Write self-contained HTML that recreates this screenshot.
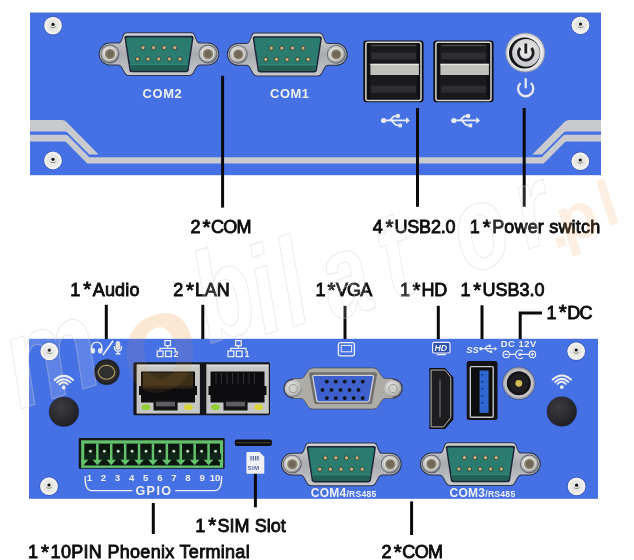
<!DOCTYPE html>
<html><head><meta charset="utf-8">
<style>
html,body{margin:0;padding:0;background:#fff;width:634px;height:560px;overflow:hidden}
svg{display:block;will-change:transform}
.lb{font-family:"Liberation Sans",sans-serif;font-size:18px;fill:#0c0c0c;stroke:#0c0c0c;stroke-width:0.85px}
.wt{font-family:"Liberation Sans",sans-serif;font-weight:bold;fill:#eef0f4}
</style></head><body>
<svg width="634" height="560" viewBox="0 0 634 560">
<defs>
  <radialGradient id="gNut" cx="0.42" cy="0.38" r="0.65">
    <stop offset="0" stop-color="#f0f0ee"/><stop offset="0.75" stop-color="#b9bab9"/><stop offset="1" stop-color="#74777e"/>
  </radialGradient>
  <linearGradient id="gShell" x1="0" y1="0" x2="0" y2="1">
    <stop offset="0" stop-color="#d2d3d4"/><stop offset="0.5" stop-color="#a9abaf"/><stop offset="1" stop-color="#c8c9cb"/>
  </linearGradient>
  <radialGradient id="gKnob" cx="0.4" cy="0.35" r="0.7">
    <stop offset="0" stop-color="#3b3c41"/><stop offset="1" stop-color="#1e1e22"/>
  </radialGradient>
  <radialGradient id="gPwr" cx="0.5" cy="0.4" r="0.6">
    <stop offset="0" stop-color="#f2f2f2"/><stop offset="1" stop-color="#c4c5c8"/>
  </radialGradient>
  <g id="screw">
    <circle r="9.6" fill="#27408f" opacity="0.55"/>
    <circle r="8.9" fill="#f0f0ee"/>
    <circle r="6.2" fill="#e6e6e2"/>
    <path d="M-3.2,-0.6 A3.2,3.2 0 0 0 3.2,-0.6 A3.2,2.2 0 0 1 -3.2,-0.6 Z" fill="#8c8a84"/>
    <circle cx="0" cy="-1.2" r="1.6" fill="#16161a"/>
  </g>
  <g id="nut">
    <circle r="9.4" fill="#5b5f6a"/>
    <circle r="8.6" fill="url(#gNut)"/>
    <circle r="6.2" fill="#e4e2da"/>
    <circle r="5.2" fill="#8b826f"/>
    <circle r="3.4" fill="#6f6757"/>
  </g>
  <!-- DB9 male, centered at 0,0 -->
  <g id="db9">
    <path d="M-49,-11.4 A11.4,11.4 0 0 0 -49,11.4 L-41,11.4 Q-38.5,11.4 -37,15 L-34.5,19.5 Q-33,22 -30,22 L30,22 Q33,22 34.5,19.5 L37,15 Q38.5,11.4 41,11.4 L49,11.4 A11.4,11.4 0 0 0 49,-11.4 L41,-11.4 Q38.5,-11.4 37.5,-15 L36,-19 Q35,-21.8 32,-21.8 L-32,-21.8 Q-35,-21.8 -36,-19 L-37.5,-15 Q-38.5,-11.4 -41,-11.4 Z" fill="#2e344c"/>
    <path d="M-49,-10.4 A10.4,10.4 0 0 0 -49,10.4 L-41,10.4 Q-38,10.4 -36.3,14.3 L-33.8,18.8 Q-32.5,21 -30,21 L30,21 Q32.5,21 33.8,18.8 L36.3,14.3 Q38,10.4 41,10.4 L49,10.4 A10.4,10.4 0 0 0 49,-10.4 L41,-10.4 Q38,-10.4 36.8,-14.3 L35.2,-18.5 Q34.4,-20.8 32,-20.8 L-32,-20.8 Q-34.4,-20.8 -35.2,-18.5 L-36.8,-14.3 Q-38,-10.4 -41,-10.4 Z" fill="url(#gShell)"/>
    <path d="M-34.6,-16.4 Q-34.6,-18.2 -32.6,-18.2 L32.6,-18.2 Q34.6,-18.2 34.6,-16.4 L29.6,16.4 Q29.1,18.2 27.1,18.2 L-27.1,18.2 Q-29.1,18.2 -29.6,16.4 Z" fill="#1c2237"/>
    <path d="M-33,-15.2 Q-33,-16.6 -31.4,-16.6 L31.4,-16.6 Q33,-16.6 33,-15.2 L28.3,15 Q27.9,16.5 26.3,16.5 L-26.3,16.5 Q-27.9,16.5 -28.3,15 Z" fill="#2b7b6e"/>
    <path d="M-29.4,10.6 L29.4,10.6 L28.3,15 Q27.9,16.5 26.3,16.5 L-26.3,16.5 Q-27.9,16.5 -28.3,15 Z" fill="#225f55"/>
    <path d="M-29.4,10.6 L29.4,10.6" stroke="#3d9a8a" stroke-width="0.7"/>
    <g fill="#cbb47c" stroke="#2f463e" stroke-width="0.9">
      <circle cx="-16" cy="-6.3" r="2.1"/><circle cx="-5.4" cy="-6.3" r="2.1"/><circle cx="5.2" cy="-6.3" r="2.1"/><circle cx="15.8" cy="-6.3" r="2.1"/>
      <circle cx="-21.5" cy="5" r="2.1"/><circle cx="-10.9" cy="5" r="2.1"/><circle cx="-0.3" cy="5" r="2.1"/><circle cx="10.3" cy="5" r="2.1"/><circle cx="20.9" cy="5" r="2.1"/>
    </g>
    <use href="#nut" x="-49" y="0"/>
    <use href="#nut" x="49" y="0"/>
  </g>
  <!-- USB 2.0 double, 60x62 -->
  <g id="usb2">
    <rect x="0" y="0" width="60.3" height="61.6" rx="3" fill="#101012"/>
    <rect x="2.6" y="1.6" width="55.1" height="58.4" rx="2" fill="none" stroke="#d4d4d2" stroke-width="1.5"/>
    <rect x="6.6" y="3.6" width="47.2" height="19.5" fill="#1a1a1c"/>
    <rect x="8" y="4.2" width="44.5" height="1.4" fill="#4a4a4a"/>
    <rect x="8" y="11.9" width="44.5" height="7" fill="#2e2e32"/>
    <rect x="7.1" y="23.2" width="48.5" height="11.2" fill="#c1c1bc"/>
    <rect x="7.1" y="23.2" width="48.5" height="1.3" fill="#e6e6e2"/>
    <rect x="6.6" y="34.6" width="47.2" height="23.4" fill="#1a1a1c"/>
    <rect x="8" y="45" width="44.5" height="7.1" fill="#2e2e32"/>
  </g>
  <g id="usbsym" fill="none" stroke="#e8ecf4" stroke-width="1.8">
    <path d="M2,0.4 L25.5,0.4"/>
    <circle cx="2.3" cy="0.5" r="2.6" fill="#e8ecf4" stroke="none"/>
    <path d="M24.8,-3 L28.6,0.4 L24.8,3.8 Z" fill="#e8ecf4" stroke="none"/>
    <path d="M8,0.4 C10.5,0.4 10,-4 14.5,-4"/>
    <circle cx="16.6" cy="-4" r="2.2" fill="#e8ecf4" stroke="none"/>
    <path d="M9.5,0.4 C12,0.4 12,5.4 17,5.4"/>
    <rect x="17" y="3.6" width="3.7" height="3.7" fill="#e8ecf4" stroke="none"/>
  </g>
  <g id="wifi" fill="none" stroke="#eceef4" stroke-width="2" stroke-linecap="round">
    <path d="M-9.1,-3 Q0,-11.2 9.2,-3"/>
    <path d="M-6.7,-0.7 Q0,-6.9 6.6,-0.7"/>
    <path d="M-4.3,1.3 Q0,-2.9 3.9,1.3"/>
    <circle cx="0" cy="4.5" r="1.9" fill="#eceef4" stroke="none"/>
  </g>
</defs>


<!-- ============ TOP PANEL ============ -->
<rect x="30" y="12.5" width="571" height="162.7" fill="#4671e4"/>
<g fill="#c9cacd">
  <path id="upL" d="M30,120 H62 Q64.5,120 66.3,121.8 L98.6,154.4 H89.3 L67.8,132.9 Q66.5,131.6 64.6,131.6 H30 Z"/>
  <use href="#upL" transform="translate(631,0) scale(-1,1)"/>
  <path d="M30,134.8 H65 Q66.9,134.8 68.2,136.1 L89.3,157.2 H541.7 L562.8,136.1 Q564.1,134.8 566,134.8 H601 V141.6 H566.8 Q565.5,141.6 564.5,142.6 L543.7,163.6 H87.3 L66.5,142.6 Q65.5,141.6 64.2,141.6 H30 Z"/>
</g>
<use href="#screw" x="53" y="25.6"/>
<use href="#screw" x="580.5" y="25.3"/>
<use href="#screw" x="53" y="160.5"/>
<use href="#screw" x="580.3" y="161.2"/>

<use href="#db9" x="159" y="54"/>
<use href="#db9" x="287.3" y="54.4"/>
<text class="wt" x="142.6" y="97.9" font-size="12.9" letter-spacing="0.6">COM2</text>
<text class="wt" x="270.0" y="97.9" font-size="12.9" letter-spacing="0.6">COM1</text>

<use href="#usb2" x="363.3" y="40.6"/>
<use href="#usb2" x="433.3" y="40.6"/>
<use href="#usbsym" x="381.3" y="120"/>
<use href="#usbsym" x="451.5" y="120"/>

<!-- power button -->
<circle cx="525.3" cy="52.6" r="19.5" fill="#d5d6d9" stroke="#8d929c" stroke-width="0.8"/>
<circle cx="525.3" cy="52.6" r="17.6" fill="#e9e9ea"/>
<circle cx="524.6" cy="53" r="15.6" fill="#141416"/>
<circle cx="526" cy="52.8" r="13.9" fill="url(#gPwr)"/>
<path d="M520.2,48 A7.4,7.4 0 1 0 531.4,48" fill="none" stroke="#1e1e22" stroke-width="2.8"/>
<path d="M525.8,43.5 L525.8,53.5" stroke="#1e1e22" stroke-width="2.8"/>
<path d="M520.6,83 A7.6,7.6 0 1 0 530.8,83" fill="none" stroke="#e6e9f0" stroke-width="2.3"/>
<path d="M525.7,78.3 L525.7,88.3" stroke="#e6e9f0" stroke-width="2.3"/>

<!-- ============ BOTTOM PANEL ============ -->
<rect x="29" y="338.8" width="569" height="160" fill="#4671e4"/>
<use href="#screw" x="49.3" y="351.4"/>
<use href="#screw" x="576.2" y="351.2"/>
<use href="#screw" x="49" y="486.2"/>
<use href="#screw" x="576.6" y="486.4"/>
<use href="#wifi" x="63.8" y="383"/>
<use href="#wifi" x="561.8" y="382.6"/>
<circle cx="63.9" cy="411.8" r="15.3" fill="#1a2a66" opacity="0.5"/>
<circle cx="63.9" cy="411.8" r="14.8" fill="url(#gKnob)"/>
<circle cx="561.8" cy="411.5" r="15.3" fill="#1a2a66" opacity="0.5"/>
<circle cx="561.8" cy="411.5" r="14.8" fill="url(#gKnob)"/>

<!-- audio -->
<circle cx="106.8" cy="372.1" r="13.2" fill="#2c3a70" opacity="0.6"/>
<circle cx="106.8" cy="372.1" r="12.6" fill="#1e1e22"/>
<circle cx="106.8" cy="372.1" r="11" fill="#2a2a2c"/>
<path d="M98,372.3 Q100,365.5 106.5,365.2 Q113.5,365.5 115,372.3 Q113.5,379 106.5,379.3 Q100,379 98,372.3 Z" fill="#303031" stroke="#b8a062" stroke-width="1.1"/>
<g fill="none" stroke="#eceef4" stroke-width="1.4">
  <path d="M91.6,350.5 L91.6,347.2 A5.1,5.1 0 0 1 101.8,347.2 L101.8,350.5"/>
  <rect x="91.2" y="348.6" width="3.4" height="4.4" rx="1.3" fill="#e6e8ee" stroke-width="1"/>
  <rect x="98.5" y="348.6" width="3.4" height="4.4" rx="1.3" fill="#e6e8ee" stroke-width="1"/>
  <path d="M102.9,355 L113.1,340.8" stroke-width="1.5"/>
  <rect x="116.2" y="341.6" width="3.6" height="7.8" rx="1.8" fill="#e2dcc8" stroke-width="1"/>
  <path d="M114.4,346.3 Q114.4,351.3 118,351.3 Q121.6,351.3 121.6,346.3 M118,351.3 L118,353.6 M115.6,353.8 L120.4,353.8"/>
</g>

<!-- LAN -->
<rect x="133.4" y="362.2" width="136.6" height="53.1" rx="1.5" fill="#141519"/>
<g>
  <rect x="136.6" y="364.3" width="63.3" height="49.3" fill="#c6c7c4"/>
  <rect x="137.6" y="365.3" width="61.3" height="1.4" fill="#dcdcda"/>
  <path d="M141,371.5 H195 V386 H197 V395 H195 V402.4 H141 V395 H139 V386 H141 Z" fill="#0d0d0f"/>
  <rect x="143" y="372.5" width="50" height="14" fill="#3d3019"/>
  <rect x="143" y="386.5" width="50" height="2" fill="#2a2418"/>
  <path d="M153.5,400 H177.6 V410.5 H153.5 Z" fill="#141416"/>
  <rect x="156" y="401.8" width="19" height="4.6" fill="#5d5e60"/>
  <ellipse cx="146" cy="407.2" rx="4.4" ry="2.9" fill="#92cf35"/>
  <ellipse cx="188.4" cy="407.2" rx="4.4" ry="2.9" fill="#d9d534"/>
</g>
<g>
  <rect x="206.3" y="364.3" width="62.5" height="49.3" fill="#c6c7c4"/>
  <rect x="207.3" y="365.3" width="60.5" height="1.4" fill="#dcdcda"/>
  <path d="M210.5,371.5 H264.5 V386 H266.5 V395 H264.5 V402.4 H210.5 V395 H208.5 V386 H210.5 Z" fill="#0d0d0f"/>
  <g stroke="#3a3a3c" stroke-width="0.8">
    <path d="M216,373 V384 M221.5,373 V384 M227,373 V384 M232.5,373 V384 M238,373 V384 M243.5,373 V384 M249,373 V384 M254.5,373 V384"/>
  </g>
  <path d="M223.5,400 H247.6 V410.5 H223.5 Z" fill="#141416"/>
  <rect x="226" y="401.8" width="19" height="4.6" fill="#5d5e60"/>
  <ellipse cx="215.5" cy="407.2" rx="4.4" ry="2.9" fill="#92cf35"/>
  <ellipse cx="258.6" cy="407.2" rx="4.4" ry="2.9" fill="#d9d534"/>
</g>
<!-- LAN icons -->
<g fill="none" stroke="#eceef4" stroke-width="1.25">
  <rect x="164.9" y="340.6" width="5.6" height="5"/>
  <path d="M167.7,345.6 V348.3 M160,351 V348.3 H175.2 V351"/>
  <rect x="157.2" y="351" width="5.8" height="5.6"/><rect x="165.5" y="351" width="5.8" height="5.6"/>
  <rect x="235.6" y="340.6" width="5.6" height="5"/>
  <path d="M238.4,345.6 V348.3 M230.8,351 V348.3 H246 V351"/>
  <rect x="228" y="351" width="5.8" height="5.6"/><rect x="236.3" y="351" width="5.8" height="5.6"/>
</g>
<text class="wt" x="173.5" y="357.2" font-size="9">2</text>
<text class="wt" x="244.5" y="357.2" font-size="9">1</text>

<!-- VGA -->
<g transform="translate(343.1,388.5)">
  <circle cx="-49.9" cy="0" r="10" fill="#3a4056"/>
  <circle cx="49.9" cy="0" r="10" fill="#3a4056"/>
  <path d="M-50,-10 L-42,-10 Q-40,-10 -38.5,-12.5 L-35,-18 Q-33.5,-20.6 -30,-20.6 L30,-20.6 Q33.5,-20.6 35,-18 L38.5,-12.5 Q40,-10 42,-10 L50,-10 L50,10 L42,10 Q40,10 38.5,12.5 L35,18 Q33.5,20.6 30,20.6 L-30,20.6 Q-33.5,20.6 -35,18 L-38.5,12.5 Q-40,10 -42,10 L-50,10 Z" fill="#aeaca6" stroke="#4a4e5c" stroke-width="0.8"/>
  <path d="M-34,-14.5 Q-34,-16.2 -32,-16.2 L32,-16.2 Q34,-16.2 34,-14.5 L29,14 Q28.5,15.6 26.5,15.6 L-26.5,15.6 Q-28.5,15.6 -29,14 Z" fill="#6f6e6c"/>
  <path d="M-30.4,-12 Q-30.4,-13.2 -28.8,-13.2 L28.8,-13.2 Q30.4,-13.2 30.4,-12 L26.2,12 Q25.8,13.3 24.2,13.3 L-24.2,13.3 Q-25.8,13.3 -26.2,12 Z" fill="#3e60cc" stroke="#d0d2d6" stroke-width="1.3"/>
  <g fill="#0e0e16">
    <circle cx="-16.3" cy="-6.9" r="1.9"/><circle cx="-7.3" cy="-6.9" r="1.9"/><circle cx="1.7" cy="-6.9" r="1.9"/><circle cx="10.6" cy="-6.9" r="1.9"/><circle cx="19.6" cy="-6.9" r="1.9"/>
    <circle cx="-20.6" cy="1.4" r="1.9"/><circle cx="-11.6" cy="1.4" r="1.9"/><circle cx="-2.6" cy="1.4" r="1.9"/><circle cx="6.4" cy="1.4" r="1.9"/><circle cx="15.4" cy="1.4" r="1.9"/>
    <circle cx="-16.3" cy="9.6" r="1.9"/><circle cx="-7.3" cy="9.6" r="1.9"/><circle cx="1.7" cy="9.6" r="1.9"/><circle cx="10.6" cy="9.6" r="1.9"/><circle cx="19.6" cy="9.6" r="1.9"/>
  </g>
  <circle cx="-49.9" cy="0" r="8.6" fill="url(#gNut)"/>
  <circle cx="-49.9" cy="0" r="4.2" fill="#cfcfcc" stroke="#8a8a88" stroke-width="0.8"/>
  <circle cx="49.9" cy="0" r="8.6" fill="url(#gNut)"/>
  <circle cx="49.9" cy="0" r="4.2" fill="#cfcfcc" stroke="#8a8a88" stroke-width="0.8"/>
</g>
<!-- VGA icon -->
<rect x="338.4" y="342.6" width="16" height="13.2" rx="2" fill="none" stroke="#eceef4" stroke-width="1.3"/>
<rect x="341.2" y="345.4" width="10.4" height="6.4" fill="none" stroke="#eceef4" stroke-width="1"/>

<!-- HDMI -->
<path d="M429.4,368 H445 L453.4,377.5 V419.5 L445,428.9 H429.4 Z" fill="#0f0f12"/>
<path d="M431.1,370 H443.6 Q445,370 446,371.2 L449.8,376 Q450.8,377.3 450.8,378.7 V416.2 Q450.8,417.6 449.8,418.9 L446,423.7 Q445,425 443.6,426.9 H431.1 Z" fill="#1d1d20" stroke="#b9b9b6" stroke-width="1"/>
<rect x="439" y="379.5" width="2" height="38" fill="#4a4a4c"/>
<!-- HD icon -->
<rect x="432.6" y="342.4" width="17.4" height="10.6" rx="1.6" fill="#2f4fae" stroke="#eceef4" stroke-width="1.2"/>
<text x="434.4" y="351.2" font-family="Liberation Sans" font-weight="bold" font-style="italic" font-size="8.8" fill="#eceef4">HD</text>
<path d="M436.8,354.6 L446,354.6" stroke="#eceef4" stroke-width="1.3"/>

<!-- USB3 -->
<rect x="466.7" y="361.1" width="30.8" height="59" rx="2.5" fill="#121214"/>
<rect x="470.3" y="366.6" width="22.9" height="50.6" rx="1" fill="none" stroke="#c2c3c3" stroke-width="1.4"/>
<rect x="471.6" y="368" width="20.4" height="47.8" fill="#0e0e10"/>
<rect x="479.6" y="370.5" width="9" height="42.4" fill="#2f66cf"/>
<g fill="#1a3f8a"><rect x="481" y="374" width="2.5" height="1.5"/><rect x="481" y="381" width="2.5" height="1.5"/><rect x="481" y="388" width="2.5" height="1.5"/><rect x="481" y="395" width="2.5" height="1.5"/><rect x="481" y="402" width="2.5" height="1.5"/></g>
<text x="466.3" y="352.5" font-family="Liberation Sans" font-weight="bold" font-style="italic" font-size="9.4" fill="#eceef4">SS</text>
<g transform="translate(479.4,348.4) scale(0.62)"><use href="#usbsym"/></g>

<!-- DC -->
<text class="wt" x="500.8" y="346.6" font-size="9.4" letter-spacing="0.55">DC 12V</text>
<g fill="none" stroke="#eceef4" stroke-width="1.2">
  <circle cx="506.2" cy="354.4" r="3.2"/><circle cx="532.4" cy="354.4" r="3.2"/>
  <path d="M522.7,351.3 A4.2,4.2 0 1 0 522.7,357.5"/>
  <path d="M504.6,354.4 H507.8 M509.4,354.4 H515.6 M520,354.4 H529.2 M530.8,354.4 H534 M532.4,352.8 V356"/>
</g>
<circle cx="519.8" cy="354.4" r="1.5" fill="#eceef4"/>
<circle cx="518.8" cy="383.3" r="16.6" fill="#2c3a6e" opacity="0.6"/>
<circle cx="518.8" cy="383.3" r="16" fill="#9c9da0"/>
<circle cx="518.8" cy="383.3" r="14.6" fill="#c2c3c4"/>
<circle cx="518.8" cy="383.3" r="12" fill="#141416"/>
<circle cx="518.8" cy="383.3" r="9.6" fill="#1e1e20"/>
<circle cx="518.8" cy="383.3" r="3.4" fill="#d4bc52"/>

<!-- Terminal block -->
<rect x="78.7" y="438.1" width="146" height="30.6" rx="1" fill="#15171d"/>
<g>
<clipPath id="cpT"><rect x="81.2" y="440.3" width="141.9" height="27.6"/></clipPath>
<rect x="81.2" y="440.3" width="141.9" height="27.6" fill="#63c16d"/>
<rect x="84.3" y="443.6" width="135.7" height="21.9" fill="#0b160e"/>
<rect x="84.80" y="453.5" width="11.2" height="7" fill="#112419"/>
<circle cx="90.40" cy="451.3" r="2.6" fill="#15301c"/>
<circle cx="90.40" cy="451.3" r="1.25" fill="#eef3ee"/>
<rect x="98.70" y="453.5" width="11.2" height="7" fill="#112419"/>
<circle cx="104.30" cy="451.3" r="2.6" fill="#15301c"/>
<circle cx="104.30" cy="451.3" r="1.25" fill="#eef3ee"/>
<rect x="112.60" y="453.5" width="11.2" height="7" fill="#112419"/>
<circle cx="118.20" cy="451.3" r="2.6" fill="#15301c"/>
<circle cx="118.20" cy="451.3" r="1.25" fill="#eef3ee"/>
<rect x="126.50" y="453.5" width="11.2" height="7" fill="#112419"/>
<circle cx="132.10" cy="451.3" r="2.6" fill="#15301c"/>
<circle cx="132.10" cy="451.3" r="1.25" fill="#eef3ee"/>
<rect x="140.40" y="453.5" width="11.2" height="7" fill="#112419"/>
<circle cx="146.00" cy="451.3" r="2.6" fill="#15301c"/>
<circle cx="146.00" cy="451.3" r="1.25" fill="#eef3ee"/>
<rect x="154.30" y="453.5" width="11.2" height="7" fill="#112419"/>
<circle cx="159.90" cy="451.3" r="2.6" fill="#15301c"/>
<circle cx="159.90" cy="451.3" r="1.25" fill="#eef3ee"/>
<rect x="168.20" y="453.5" width="11.2" height="7" fill="#112419"/>
<circle cx="173.80" cy="451.3" r="2.6" fill="#15301c"/>
<circle cx="173.80" cy="451.3" r="1.25" fill="#eef3ee"/>
<rect x="182.10" y="453.5" width="11.2" height="7" fill="#112419"/>
<circle cx="187.70" cy="451.3" r="2.6" fill="#15301c"/>
<circle cx="187.70" cy="451.3" r="1.25" fill="#eef3ee"/>
<rect x="196.00" y="453.5" width="11.2" height="7" fill="#112419"/>
<circle cx="201.60" cy="451.3" r="2.6" fill="#15301c"/>
<circle cx="201.60" cy="451.3" r="1.25" fill="#eef3ee"/>
<rect x="209.90" y="453.5" width="11.2" height="7" fill="#112419"/>
<circle cx="215.50" cy="451.3" r="2.6" fill="#15301c"/>
<circle cx="215.50" cy="451.3" r="1.25" fill="#eef3ee"/>
<g clip-path="url(#cpT)">
<path d="M78.65,459.7 L88.25,459.7 L83.45,465.3 Z" fill="#63c16d"/>
<rect x="96.10" y="443.5" width="2.5" height="18" fill="#63c16d"/>
<path d="M92.55,459.7 L102.15,459.7 L97.35,465.3 Z" fill="#63c16d"/>
<rect x="110.00" y="443.5" width="2.5" height="18" fill="#63c16d"/>
<path d="M106.45,459.7 L116.05,459.7 L111.25,465.3 Z" fill="#63c16d"/>
<rect x="123.90" y="443.5" width="2.5" height="18" fill="#63c16d"/>
<path d="M120.35,459.7 L129.95,459.7 L125.15,465.3 Z" fill="#63c16d"/>
<rect x="137.80" y="443.5" width="2.5" height="18" fill="#63c16d"/>
<path d="M134.25,459.7 L143.85,459.7 L139.05,465.3 Z" fill="#63c16d"/>
<rect x="151.70" y="443.5" width="2.5" height="18" fill="#63c16d"/>
<path d="M148.15,459.7 L157.75,459.7 L152.95,465.3 Z" fill="#63c16d"/>
<rect x="165.60" y="443.5" width="2.5" height="18" fill="#63c16d"/>
<path d="M162.05,459.7 L171.65,459.7 L166.85,465.3 Z" fill="#63c16d"/>
<rect x="179.50" y="443.5" width="2.5" height="18" fill="#63c16d"/>
<path d="M175.95,459.7 L185.55,459.7 L180.75,465.3 Z" fill="#63c16d"/>
<rect x="193.40" y="443.5" width="2.5" height="18" fill="#63c16d"/>
<path d="M189.85,459.7 L199.45,459.7 L194.65,465.3 Z" fill="#63c16d"/>
<rect x="207.30" y="443.5" width="2.5" height="18" fill="#63c16d"/>
<path d="M203.75,459.7 L213.35,459.7 L208.55,465.3 Z" fill="#63c16d"/>
<path d="M217.65,459.7 L227.25,459.7 L222.45,465.3 Z" fill="#63c16d"/>
</g>
</g>

<!-- GPIO numbers -->
<g class="wt" font-size="9.6" text-anchor="middle">
  <text x="89.3" y="481">1</text><text x="103.3" y="481">2</text><text x="117.5" y="481">3</text><text x="131.6" y="481">4</text><text x="145.7" y="481">5</text>
  <text x="159.8" y="481">6</text><text x="173.9" y="481">7</text><text x="188" y="481">8</text><text x="202.1" y="481">9</text><text x="215" y="481">10</text>
</g>
<path d="M85.2,476 Q84.6,490.6 92,490.6 L132.5,490.6 M175.2,490.6 L214.5,490.6 Q221.8,490.6 221.6,476" fill="none" stroke="#eceef4" stroke-width="1.4"/>
<text class="wt" x="135.4" y="495.3" font-size="12.6" letter-spacing="1.4">GPIO</text>

<!-- SIM -->
<rect x="234.8" y="439.4" width="37.1" height="6.7" rx="2" fill="#0e0e12"/>
<rect x="236" y="442" width="34.5" height="1.2" fill="#3a3a30"/>
<path d="M246.4,452.9 Q246.4,451.9 247.4,451.9 L259.4,451.9 L264.3,456.8 L264.3,472.8 Q264.3,473.8 263.3,473.8 L247.4,473.8 Q246.4,473.8 246.4,472.8 Z" fill="#eef0f4"/>
<g fill="#5a68a6"><rect x="250.4" y="456" width="1.3" height="4.5"/><rect x="252.7" y="456" width="1.3" height="4.5"/><rect x="255" y="456" width="1.3" height="4.5"/><rect x="257.3" y="456" width="1.3" height="4.5"/></g>
<text x="247.6" y="469.8" font-family="Liberation Sans" font-weight="bold" font-size="6.2" fill="#5a68a6" letter-spacing="0.3">SIM</text>

<!-- COM3/4 -->
<use href="#db9" x="341.3" y="464.2"/>
<use href="#db9" x="480.4" y="464"/>
<text class="wt" x="310.8" y="497.4" font-size="12" letter-spacing="0.25">COM4<tspan font-size="8.6">/RS485</tspan></text>
<text class="wt" x="449.6" y="497" font-size="12" letter-spacing="0.25">COM3<tspan font-size="8.6">/RS485</tspan></text>

<!-- ============ LEADER LINES ============ -->
<g stroke="#0a0a0a" stroke-width="3" fill="none">
  <path d="M222.6,75.8 V207.6"/>
  <path d="M417.5,108 V206.8"/>
  <path d="M524.2,108 V206.8"/>
  <path d="M106.3,304.8 V339"/>
  <path d="M202.8,304.8 V339"/>
  <path d="M345,305.8 V339"/>
  <path d="M438.3,305.8 V339"/>
  <path d="M482,305.3 V339"/>
  <path d="M520.2,339 V313 H542"/>
  <path d="M153.3,503 V534"/>
  <path d="M255.4,473.8 V507.3"/>
  <path d="M411.6,501.4 V535"/>
</g>


<text class="lb" x="190.47" y="233.20" letter-spacing="-0.796">2<tspan dx="2.8" font-size="20.5" dy="0.7">*</tspan><tspan dx="1.3" dy="-0.7">COM</tspan></text>
<text class="lb" x="372.81" y="233.10" letter-spacing="-0.208">4<tspan dx="2.8" font-size="20.5" dy="0.7">*</tspan><tspan dx="1.3" dy="-0.7">USB2.0</tspan></text>
<text class="lb" x="469.66" y="233.30" letter-spacing="0.180">1<tspan dx="2.8" font-size="20.5" dy="0.7">*</tspan><tspan dx="1.3" dy="-0.7">Power switch</tspan></text>
<text class="lb" x="70.29" y="295.50" letter-spacing="0.175">1<tspan dx="2.8" font-size="20.5" dy="0.7">*</tspan><tspan dx="1.3" dy="-0.7">Audio</tspan></text>
<text class="lb" x="173.29" y="295.90" letter-spacing="-0.176">2<tspan dx="2.8" font-size="20.5" dy="0.7">*</tspan><tspan dx="1.3" dy="-0.7">LAN</tspan></text>
<text class="lb" x="315.56" y="295.80" letter-spacing="-0.867">1<tspan dx="2.8" font-size="20.5" dy="0.7">*</tspan><tspan dx="1.3" dy="-0.7">VGA</tspan></text>
<text class="lb" x="400.03" y="295.80" letter-spacing="-0.286">1<tspan dx="2.8" font-size="20.5" dy="0.7">*</tspan><tspan dx="1.3" dy="-0.7">HD</tspan></text>
<text class="lb" x="460.54" y="295.80" letter-spacing="-0.021">1<tspan dx="2.8" font-size="20.5" dy="0.7">*</tspan><tspan dx="1.3" dy="-0.7">USB3.0</tspan></text>
<text class="lb" x="546.54" y="318.70" letter-spacing="-0.670">1<tspan dx="2.8" font-size="20.5" dy="0.7">*</tspan><tspan dx="1.3" dy="-0.7">DC</tspan></text>
<text class="lb" x="195.28" y="531.70" letter-spacing="0.047">1<tspan dx="2.8" font-size="20.5" dy="0.7">*</tspan><tspan dx="1.3" dy="-0.7">SIM Slot</tspan></text>
<text class="lb" x="27.90" y="558.00" letter-spacing="0.300">1<tspan dx="2.8" font-size="20.5" dy="0.7">*</tspan><tspan dx="1.3" dy="-0.7">10PIN Phoenix Terminal</tspan></text>
<text class="lb" x="381.47" y="558.20" letter-spacing="-0.645">2<tspan dx="2.8" font-size="20.5" dy="0.7">*</tspan><tspan dx="1.3" dy="-0.7">COM</tspan></text>
<g font-family="Liberation Sans" font-weight="bold" font-style="italic">
<clipPath id="cpOut"><path clip-rule="evenodd" d="M0,0 H634 V560 H0 Z M29,338.8 H598 V498.8 H29 Z"/></clipPath><clipPath id="cpIn"><rect x="29" y="338.8" width="569" height="160"/></clipPath>
<text transform="translate(52,362) rotate(-17.7) scale(0.8,1)" x="-56.5" y="35.1" font-size="130" fill="#ffffff" fill-opacity="0.13" stroke="#d0d0d0" stroke-opacity="0.38" stroke-width="1.3">m</text>
<text transform="translate(222,292) rotate(-17.7) scale(0.72,1)" x="-38.4" y="45.8" font-size="128" fill="#ffffff" fill-opacity="0.13" stroke="#d0d0d0" stroke-opacity="0.38" stroke-width="1.3">b</text>
<text transform="translate(264,288) rotate(-17.7) scale(0.72,1)" x="-19.5" y="44.9" font-size="124" fill="#ffffff" fill-opacity="0.13" stroke="#d0d0d0" stroke-opacity="0.38" stroke-width="1.3">i</text>
<text transform="translate(292,280) rotate(-17.7) scale(0.72,1)" x="-19.5" y="44.9" font-size="124" fill="#ffffff" fill-opacity="0.13" stroke="#d0d0d0" stroke-opacity="0.38" stroke-width="1.3">l</text>
<text transform="translate(346,284) rotate(-17.7) scale(0.72,1)" x="-31.3" y="31.3" font-size="118" fill="#ffffff" fill-opacity="0.13" stroke="#d0d0d0" stroke-opacity="0.38" stroke-width="1.3">a</text>
<text transform="translate(398,256) rotate(-17.7) scale(0.72,1)" x="-25.4" y="40.0" font-size="124" fill="#ffffff" fill-opacity="0.13" stroke="#d0d0d0" stroke-opacity="0.38" stroke-width="1.3">t</text>
<text transform="translate(482,236) rotate(-17.7) scale(0.72,1)" x="-36.6" y="31.8" font-size="120" fill="#ffffff" fill-opacity="0.13" stroke="#d0d0d0" stroke-opacity="0.38" stroke-width="1.3">o</text>
<text transform="translate(536,214) rotate(-17.7) scale(0.72,1)" x="-26.4" y="31.3" font-size="116" fill="#ffffff" fill-opacity="0.13" stroke="#d0d0d0" stroke-opacity="0.38" stroke-width="1.3">r</text>
<text font-style="normal" transform="translate(561,242) rotate(-17.7) scale(1,1)" x="-8.7" y="4.6" font-size="62" fill="#f5a050" fill-opacity="0.17" stroke="none">.</text>
<text font-style="normal" transform="translate(581,228) rotate(-17.7) scale(1,1)" x="-21.0" y="10.9" font-size="66" fill="#f5a050" fill-opacity="0.17" stroke="none">p</text>
<text font-style="normal" transform="translate(607,202) rotate(-17.7) scale(1,1)" x="-8.8" y="23.2" font-size="64" fill="#f5a050" fill-opacity="0.17" stroke="none">l</text>
<g clip-path="url(#cpOut)"><text transform="translate(160,353) rotate(-17.7) scale(0.9,1)" x="-42.7" y="37.1" font-size="140" fill="#f5a050" fill-opacity="0.25" stroke="none">o</text></g>
<g clip-path="url(#cpIn)"><text transform="translate(160,353) rotate(-17.7) scale(0.9,1)" x="-42.7" y="37.1" font-size="140" fill="#f5a050" fill-opacity="0.09" stroke="none">o</text></g>
</g>
</svg>
</body></html>
